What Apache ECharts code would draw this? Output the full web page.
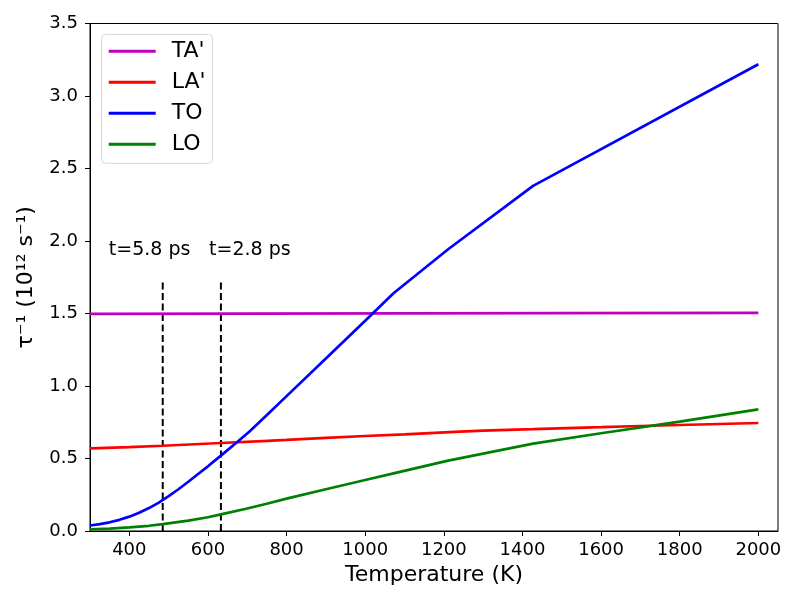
<!DOCTYPE html>
<html><head><meta charset="utf-8">
<script src="https://cdn.jsdelivr.net/npm/echarts@6/dist/echarts.min.js"></script>
<style>html,body{margin:0;padding:0;background:#fff}#c{width:800px;height:600px}</style>
</head><body><div id="c"></div>
<script>
const seriesNames = ["TA'", "LA'", "TO", "LO"];
const seriesColors = ['#bf00bf', '#ff0000', '#0000ff', '#008000'];

const taT = [300, 700, 1100, 1500, 2000];
const taV = [1.497, 1.499, 1.501, 1.503, 1.505];

const laT = [300, 400, 485, 633, 752, 800, 900, 1000, 1100, 1228, 1300, 1427, 1515, 1600, 1700, 1800, 1900, 2000];
const laV = [0.570, 0.578, 0.588, 0.607, 0.622, 0.628, 0.642, 0.655, 0.667, 0.684, 0.692, 0.702, 0.710, 0.716, 0.724, 0.731, 0.738, 0.745];

const toT = [300, 325, 350, 375, 400, 425, 450, 475, 500, 525, 550, 575, 600, 633, 676, 705, 750, 800, 900, 1000, 1072, 1211, 1427, 2000];
const toV = [0.038, 0.047, 0.060, 0.077, 0.099, 0.126, 0.158, 0.196, 0.240, 0.288, 0.340, 0.393, 0.446, 0.520, 0.617, 0.685, 0.800, 0.930, 1.190, 1.450, 1.640, 1.943, 2.380, 3.219];

const loT = [300, 350, 400, 450, 485, 550, 600, 633, 700, 752, 800, 900, 1000, 1072, 1211, 1427, 1600, 1800, 2000];
const loV = [0.012, 0.017, 0.025, 0.036, 0.048, 0.072, 0.095, 0.115, 0.155, 0.190, 0.223, 0.288, 0.352, 0.397, 0.485, 0.603, 0.674, 0.754, 0.839];

const xTicks = [400, 600, 800, 1000, 1200, 1400, 1600, 1800, 2000];
const yTicks = [0, 0.5, 1.0, 1.5, 2.0, 2.5, 3.0, 3.5];

const markerT = [485, 633];
const markerTop = 1.725;
const annotText = ['t=5.8 ps', 't=2.8 ps'];
const annotT = [348, 603];
const annotY = 1.94;

const FONT = 'DejaVu Sans';
const zip = (a, b) => a.map((v, i) => [v, b[i]]);
const curves = [zip(taT, taV), zip(laT, laV), zip(toT, toV), zip(loT, loV)];

const series = curves.map((d, i) => ({
  name: seriesNames[i], type: 'line', data: d, showSymbol: false, symbol: 'none',
  color: seriesColors[i], itemStyle: {color: seriesColors[i]},
  lineStyle: {color: seriesColors[i], width: 2.7}, z: 5 + i, silent: true
}));
markerT.forEach((t, k) => series.push({
  type: 'line', data: [[t, 0], [t, markerTop]], symbol: 'none', silent: true, z: 2,
  lineStyle: {color: '#000', width: 2, type: [7, 3.5]},
  markPoint: {
    silent: true, symbol: 'rect', symbolSize: 0, animation: false,
    itemStyle: {color: '#000', opacity: 1},
    data: [{coord: [annotT[k], annotY], value: annotText[k]}],
    label: {show: true, position: 'right', distance: 0, align: 'left', verticalAlign: 'middle',
      formatter: annotText[k], fontSize: 19, fontFamily: FONT, color: '#000', opacity: 1, textBorderWidth: 0}
  }
}));

const chart = echarts.init(document.getElementById('c'), null, {renderer: 'canvas'});
chart.setOption({
  animation: false,
  textStyle: {fontFamily: FONT},
  grid: {left: 90, right: 22, top: 23.5, bottom: 69, show: true, borderColor: '#000', borderWidth: 1, containLabel: false, outerBoundsMode: 'none'},
  legend: {
    left: 101.7, top: 34.3, orient: 'vertical', data: seriesNames,
    itemWidth: 47, itemHeight: 22, itemGap: 9, padding: [6, 7, 8, 7],
    borderColor: '#d6d6d6', borderWidth: 1, borderRadius: 4, backgroundColor: 'rgba(255,255,255,0.8)',
    icon: 'path://M0,0L47,0L47,3L0,3Z',
    textStyle: {fontSize: 22, fontFamily: FONT, color: '#000', padding: [0, 0, 0, 11], lineHeight: 22}
  },
  xAxis: {
    type: 'value', min: 300, max: 2050,
    name: 'Temperature (K)', nameLocation: 'middle', nameGap: 32,
    nameTextStyle: {fontSize: 22, fontFamily: FONT, color: '#000'},
    axisLine: {show: true, lineStyle: {color: '#000', width: 1}},
    axisTick: {show: true, inside: false, length: 5, lineStyle: {color: '#000'}, customValues: xTicks},
    axisLabel: {fontSize: 18, fontFamily: FONT, color: '#000', margin: 10, customValues: xTicks,
      formatter: v => String(Math.round(v))},
    splitLine: {show: false}
  },
  yAxis: {
    type: 'value', min: 0, max: 3.5, interval: 0.5,
    name: 'τ⁻¹ (10¹² s⁻¹)', nameLocation: 'middle', nameGap: 53,
    nameTextStyle: {fontSize: 22, fontFamily: FONT, color: '#000'},
    axisLine: {show: true, lineStyle: {color: '#000', width: 1}},
    axisTick: {show: true, inside: false, length: 5, lineStyle: {color: '#000'}, customValues: yTicks},
    axisLabel: {fontSize: 18, fontFamily: FONT, color: '#000', margin: 12, customValues: yTicks,
      formatter: v => Number(v).toFixed(1)},
    splitLine: {show: false}
  },
  series: series
});
</script></body></html>
